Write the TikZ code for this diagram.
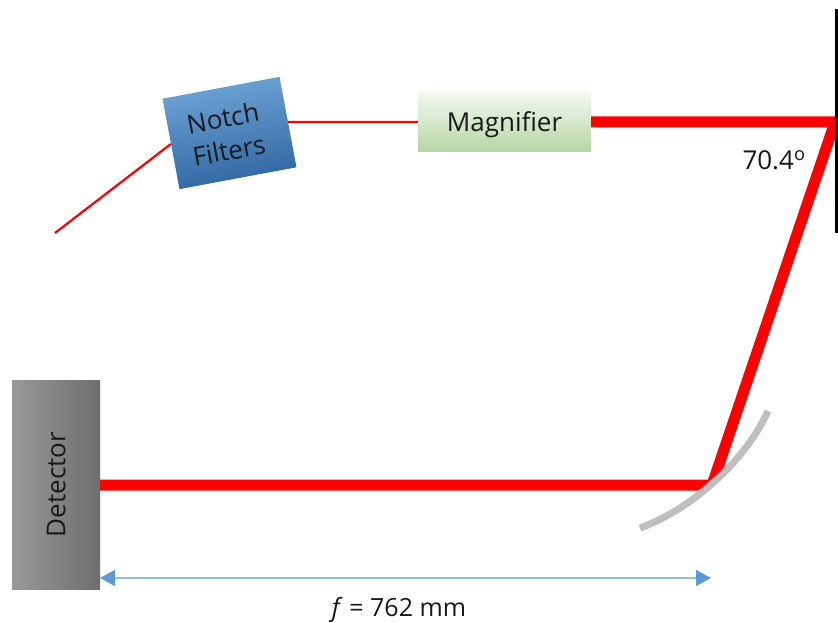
\documentclass[tikz,border=0pt]{standalone}
\usepackage{fontspec}
\setmainfont{Open Sans}
\usepackage{xcolor}
\usetikzlibrary{arrows.meta}
\definecolor{beamred}{RGB}{255,0,0}
\definecolor{dimblue}{RGB}{91,155,213}
\definecolor{dimline}{RGB}{145,190,230}
\definecolor{notchtop}{RGB}{112,165,215}
\definecolor{notchbot}{RGB}{45,100,160}
\definecolor{magtop}{RGB}{244,248,241}
\definecolor{magbot}{RGB}{181,214,165}
\definecolor{mirrorgray}{RGB}{191,191,191}
\begin{document}
\begin{tikzpicture}[x=1pt,y=-1pt,>={Triangle[length=15pt,width=16pt,color=dimblue]},
		beam/.style={draw=beamred,line width=11pt},
		thinbeam/.style={draw=beamred,line width=2.2pt},
		textlabel/.style={font=\fontsize{26}{33}\selectfont,text=black!90,text depth=0pt}]
		
		\useasboundingbox (0,0) rectangle (838,623);
		
		% Points on the beam
		\coordinate (grating) at (835,122);
		\coordinate (focus) at (712,485);
		\coordinate (start) at (55,233);
		\coordinate (arrowleft) at (100,578);
		\coordinate (arrowright) at (711,578);
		
		% Boxes
		\node[rotate=10.6,minimum width=119pt,minimum height=92pt,inner sep=0pt,top color=notchtop,bottom color=notchbot,shading angle=10.6] (notch) at (229.5,133) {};
		\node[rotate=10.6,align=center,textlabel] (notchtext) at (226,134) {Notch\\Filters};
		\node[minimum width=173pt,minimum height=60pt,inner sep=0pt,top color=magtop,bottom color=magbot,textlabel] (magnifier) at (504.5,122) {Magnifier};
		\node[minimum width=88pt,minimum height=209pt,inner sep=0pt,left color=black!40,right color=black!57] (detector) at (56,484.5) {};
		\node[rotate=90,textlabel] (detectortext) at (detector.center) {Detector};
		
		% Thick beam, stops at the curved mirror
		\begin{scope}
			\clip (0,0) -- (838,0) -- (838,411) -- (768,411) .. controls (745,462) and (690,510) .. (640,528) -- (0,528) -- cycle;
			\draw[beam,line join=bevel] (magnifier.east) -- (grating) -- (focus) -- (detector.east |- focus);
		\end{scope}
		
		% Flat mirror
		\fill[black] (835,9) rectangle (838,233);
		
		% Curved mirror
		\draw[line width=7pt,color=mirrorgray] (768,411) .. controls (745,462) and (690,510) .. (640,528);
		
		% Thin beam
		\draw[thinbeam] (start) -- (notch.west);
		\draw[thinbeam] (notch.east) -- (magnifier.west);
		
		% Focal length
		\draw[<->,draw=dimline,line width=1.5pt] (arrowleft) -- (arrowright);
		\node[textlabel,font=\fontsize{25}{30}\selectfont] (focal) at (399,607) {\textit{f} = 762 mm};
		
		% Angle
		\node[textlabel] (angle) at (774,160) {70.4\textsuperscript{o}};
		
	\end{tikzpicture}
\end{document}
